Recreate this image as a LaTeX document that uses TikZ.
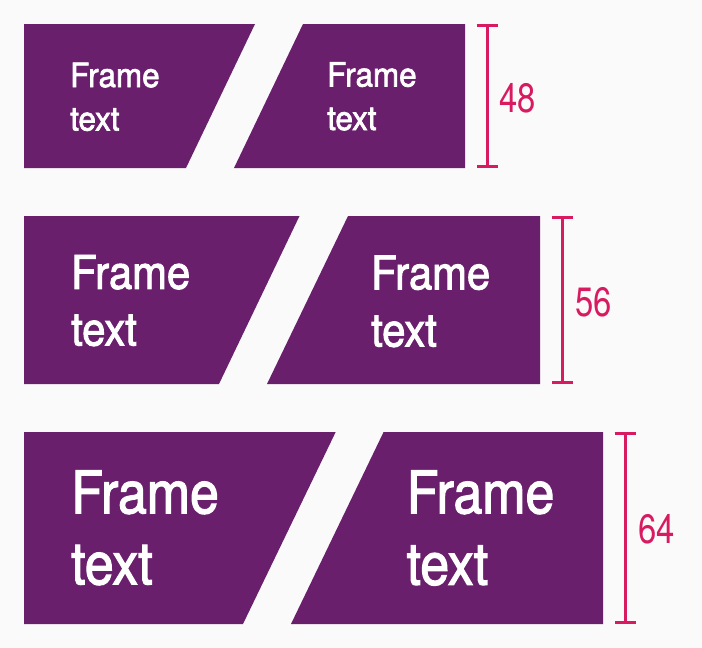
\documentclass[tikz,border=0pt]{standalone}
\usepackage{fontspec}
\usepackage{tikz}
\usetikzlibrary{arrows.meta}
\usetikzlibrary{positioning}
\newfontfamily\framefonta[FakeStretch=0.94, FakeBold=2]{TeX Gyre Heros}
\newfontfamily\framefontb[FakeStretch=0.9, FakeBold=2]{TeX Gyre Heros}
\newfontfamily\framefontc[FakeStretch=0.88, FakeBold=2]{TeX Gyre Heros}
\newfontfamily\dimfont[FakeStretch=0.8]{TeX Gyre Heros}
\definecolor{bgcol}{HTML}{FAFAFA}
\definecolor{mpurple}{HTML}{6A1F6D}
\definecolor{mpink}{HTML}{D81B60}
\tikzset{frame/.style = {fill = mpurple},
  txta/.style = {white, inner sep = 0, anchor = base west, font = \framefonta\fontsize{33.4}{40}\selectfont},
  txtb/.style = {white, inner sep = 0, anchor = base west, font = \framefontb\fontsize{46.4}{54}\selectfont},
  txtc/.style = {white, inner sep = 0, anchor = base west, font = \framefontc\fontsize{58.9}{70}\selectfont},
  dimline/.style = {mpink, line width = 3, {Bar[width=21pt]}-{Bar[width=21pt]}},
  dimlabel/.style = {mpink, inner sep = 0, anchor = base west, font = \dimfont\fontsize{41}{48}\selectfont}}

\begin{document}
\begin{tikzpicture}[x=1pt, y=-1pt]
    \fill [bgcol] (0, 0) rectangle (702, 648);
    \useasboundingbox (0, 0) rectangle (702, 648);

    % 48
    \fill [frame] (24, 24) -- (255, 24) -- (186, 168) -- (24, 168) -- cycle;
    \fill [frame] (303, 24) -- (465, 24) -- (465, 168) -- (234, 168) -- cycle;
    \node [txta] (a1) at (70, 87) {Frame};
    \node [txta] (a2) at (70, 130.5) {text};
    \node [txta] (a3) at (327, 86.5) {Frame};
    \node [txta] (a4) at (327, 130) {text};
    \coordinate (d1t) at (487, 24);
    \coordinate (d1b) at (487, 168);
    \draw [dimline] (d1t) -- (d1b);
    \node [dimlabel] (l1) at (499, 112) {48};

    % 56
    \fill [frame] (24, 216) -- (299.5, 216) -- (219, 384) -- (24, 384) -- cycle;
    \fill [frame] (348, 216) -- (540, 216) -- (540, 384) -- (267, 384) -- cycle;
    \node [txtb] (b1) at (71, 288.8) {Frame};
    \node [txtb] (b2) at (71, 345.5) {text};
    \node [txtb] (b3) at (371, 289.3) {Frame};
    \node [txtb] (b4) at (371, 346.5) {text};
    \coordinate (d2t) at (562, 216);
    \coordinate (d2b) at (562, 384);
    \draw [dimline] (d2t) -- (d2b);
    \node [dimlabel] (l2) at (575, 316) {56};

    % 64
    \fill [frame] (24, 432) -- (335.7, 432) -- (243, 624) -- (24, 624) -- cycle;
    \fill [frame] (383.6, 432) -- (603, 432) -- (603, 624) -- (291, 624) -- cycle;
    \node [txtc] (c1) at (71, 513.3) {Frame};
    \node [txtc] (c2) at (71, 584.3) {text};
    \node [txtc] (c3) at (406.5, 513.3) {Frame};
    \node [txtc] (c4) at (406.5, 584.7) {text};
    \coordinate (d3t) at (625, 432);
    \coordinate (d3b) at (625, 624);
    \draw [dimline] (d3t) -- (d3b);
    \node [dimlabel] (l3) at (638, 543) {64};
  \end{tikzpicture}
\end{document}
